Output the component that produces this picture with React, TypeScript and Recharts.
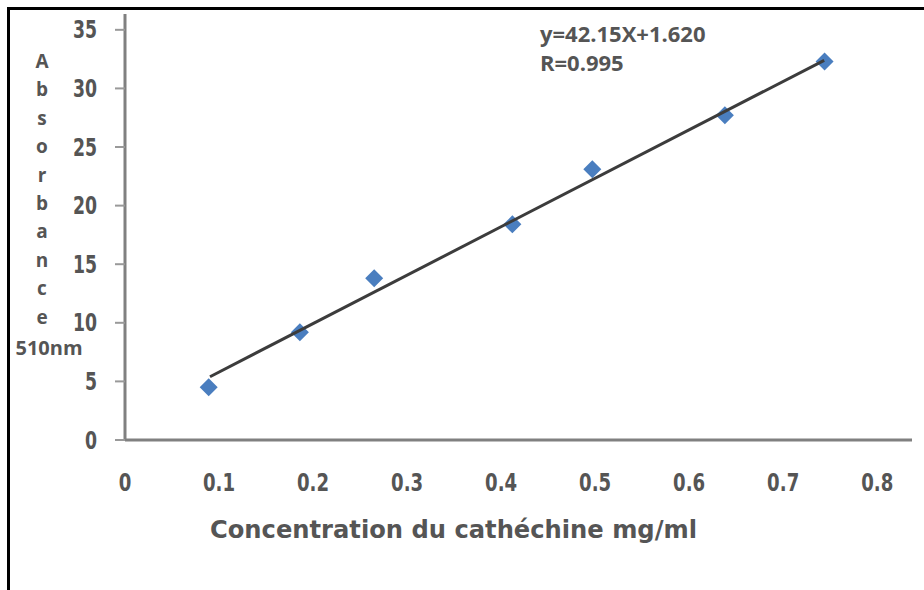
import React from 'react';
import { ScatterChart, Scatter, XAxis, YAxis, Label } from 'recharts';

const concentration = [0.089, 0.186, 0.265, 0.412, 0.497, 0.638, 0.744];
const absorbance = [4.5, 9.2, 13.8, 18.4, 23.1, 27.7, 32.3];
const fitX = [0.0904, 0.7436];
const fitY = [5.4, 32.4];
const xTicks = [0, 0.1, 0.2, 0.3, 0.4, 0.5, 0.6, 0.7, 0.8];
const yTicks = [0, 5, 10, 15, 20, 25, 30, 35];
const yTitleLetters = ['A', 'b', 's', 'o', 'r', 'b', 'a', 'n', 'c', 'e'];

const points = concentration.map((x, i) => ({ x, y: absorbance[i] }));
const fitLine = fitX.map((x, i) => ({ x, y: fitY[i] }));

const textColor = '#555555';
const condensed = '"DejaVu Sans Condensed", "DejaVu Sans", sans-serif';
const wide = '"Open Sans", sans-serif';

const Diamond = (props: any) => {
  const { cx, cy } = props;
  const r = 9;
  return (
    <polygon
      points={`${cx},${cy - r} ${cx + r},${cy} ${cx},${cy + r} ${cx - r},${cy}`}
      fill="#4a7ebf"
    />
  );
};

// tall, narrow tick digits like the scanned figure
const XTick = ({ x, y, payload }: any) => (
  <g transform={`translate(${x},${y})`}>
    <text
      transform="scale(0.84,1)"
      textAnchor="middle"
      dy="0.71em"
      fill={textColor}
      fontFamily={condensed}
      fontWeight={700}
      fontSize={24}
    >
      {payload.value === 0 ? '0' : String(payload.value)}
    </text>
  </g>
);

const YTick = ({ x, y, payload }: any) => (
  <g transform={`translate(${x},${y})`}>
    <text
      transform="scale(0.8,1)"
      textAnchor="end"
      dy="0.36em"
      fill={textColor}
      fontFamily={condensed}
      fontWeight={700}
      fontSize={24}
    >
      {payload.value}
    </text>
  </g>
);

const XTitle = ({ viewBox }: any) => (
  <text
    x={viewBox.x + viewBox.width / 2 - 65}
    y={viewBox.y + 98}
    textAnchor="middle"
    textLength={487}
    lengthAdjust="spacingAndGlyphs"
    fill={textColor}
    fontFamily={condensed}
    fontWeight={700}
    fontSize={25}
  >
    Concentration du cathéchine mg/ml
  </text>
);

const YTitle = ({ viewBox }: any) => (
  <text fill={textColor} fontFamily={wide} fontWeight={700} textAnchor="middle">
    {yTitleLetters.map((ch, i) => (
      <tspan key={i} x={42} y={viewBox.y + 54 + i * 28.4} fontSize={19}>
        {ch}
      </tspan>
    ))}
    <tspan x={49} y={viewBox.y + 341} fontSize={20}>
      510nm
    </tspan>
  </text>
);

export default function App() {
  return (
    <div
      style={{
        position: 'absolute',
        left: 0,
        top: 0,
        width: 924,
        height: 590,
        background: '#fff',
        overflow: 'hidden',
      }}
    >
      <div
        style={{
          position: 'absolute',
          left: 7,
          top: 7,
          width: 940,
          height: 600,
          borderTop: '3px solid #000',
          borderLeft: '3px solid #000',
        }}
      />
      <div style={{ position: 'absolute', left: 0, top: 0 }}>
        <ScatterChart width={924} height={590} margin={{ top: 14, right: 12, bottom: 90, left: 0 }}>
          <XAxis
            type="number"
            dataKey="x"
            domain={[0, 0.837]}
            allowDataOverflow
            ticks={xTicks}
            interval={0}
            axisLine={{ stroke: '#808080', strokeWidth: 3 }}
            tickLine={false}
            tickSize={6}
            tickMargin={28}
            height={60}
            tick={<XTick />}
          >
            <Label content={XTitle} />
          </XAxis>
          <YAxis
            type="number"
            dataKey="y"
            domain={[0, 36.35]}
            allowDataOverflow
            ticks={yTicks}
            interval={0}
            width={125}
            axisLine={{ stroke: '#808080', strokeWidth: 3 }}
            tickLine={{ stroke: '#999', strokeWidth: 2 }}
            tickSize={10}
            tickMargin={18}
            tick={<YTick />}
          >
            <Label content={YTitle} />
          </YAxis>
          <Scatter data={points} shape={Diamond} fill="#4a7ebf" isAnimationActive={false} />
          <Scatter
            data={fitLine}
            line={{ stroke: '#3c3c3c', strokeWidth: 3 }}
            shape={() => <g />}
            isAnimationActive={false}
          />
        </ScatterChart>
      </div>
      <div
        style={{
          position: 'absolute',
          left: 540,
          top: 19,
          fontFamily: wide,
          fontWeight: 700,
          fontSize: 22,
          lineHeight: '29px',
          color: textColor,
        }}
      >
        <div>y=42.15X+1.620</div>
        <div>R=0.995</div>
      </div>
    </div>
  );
}
